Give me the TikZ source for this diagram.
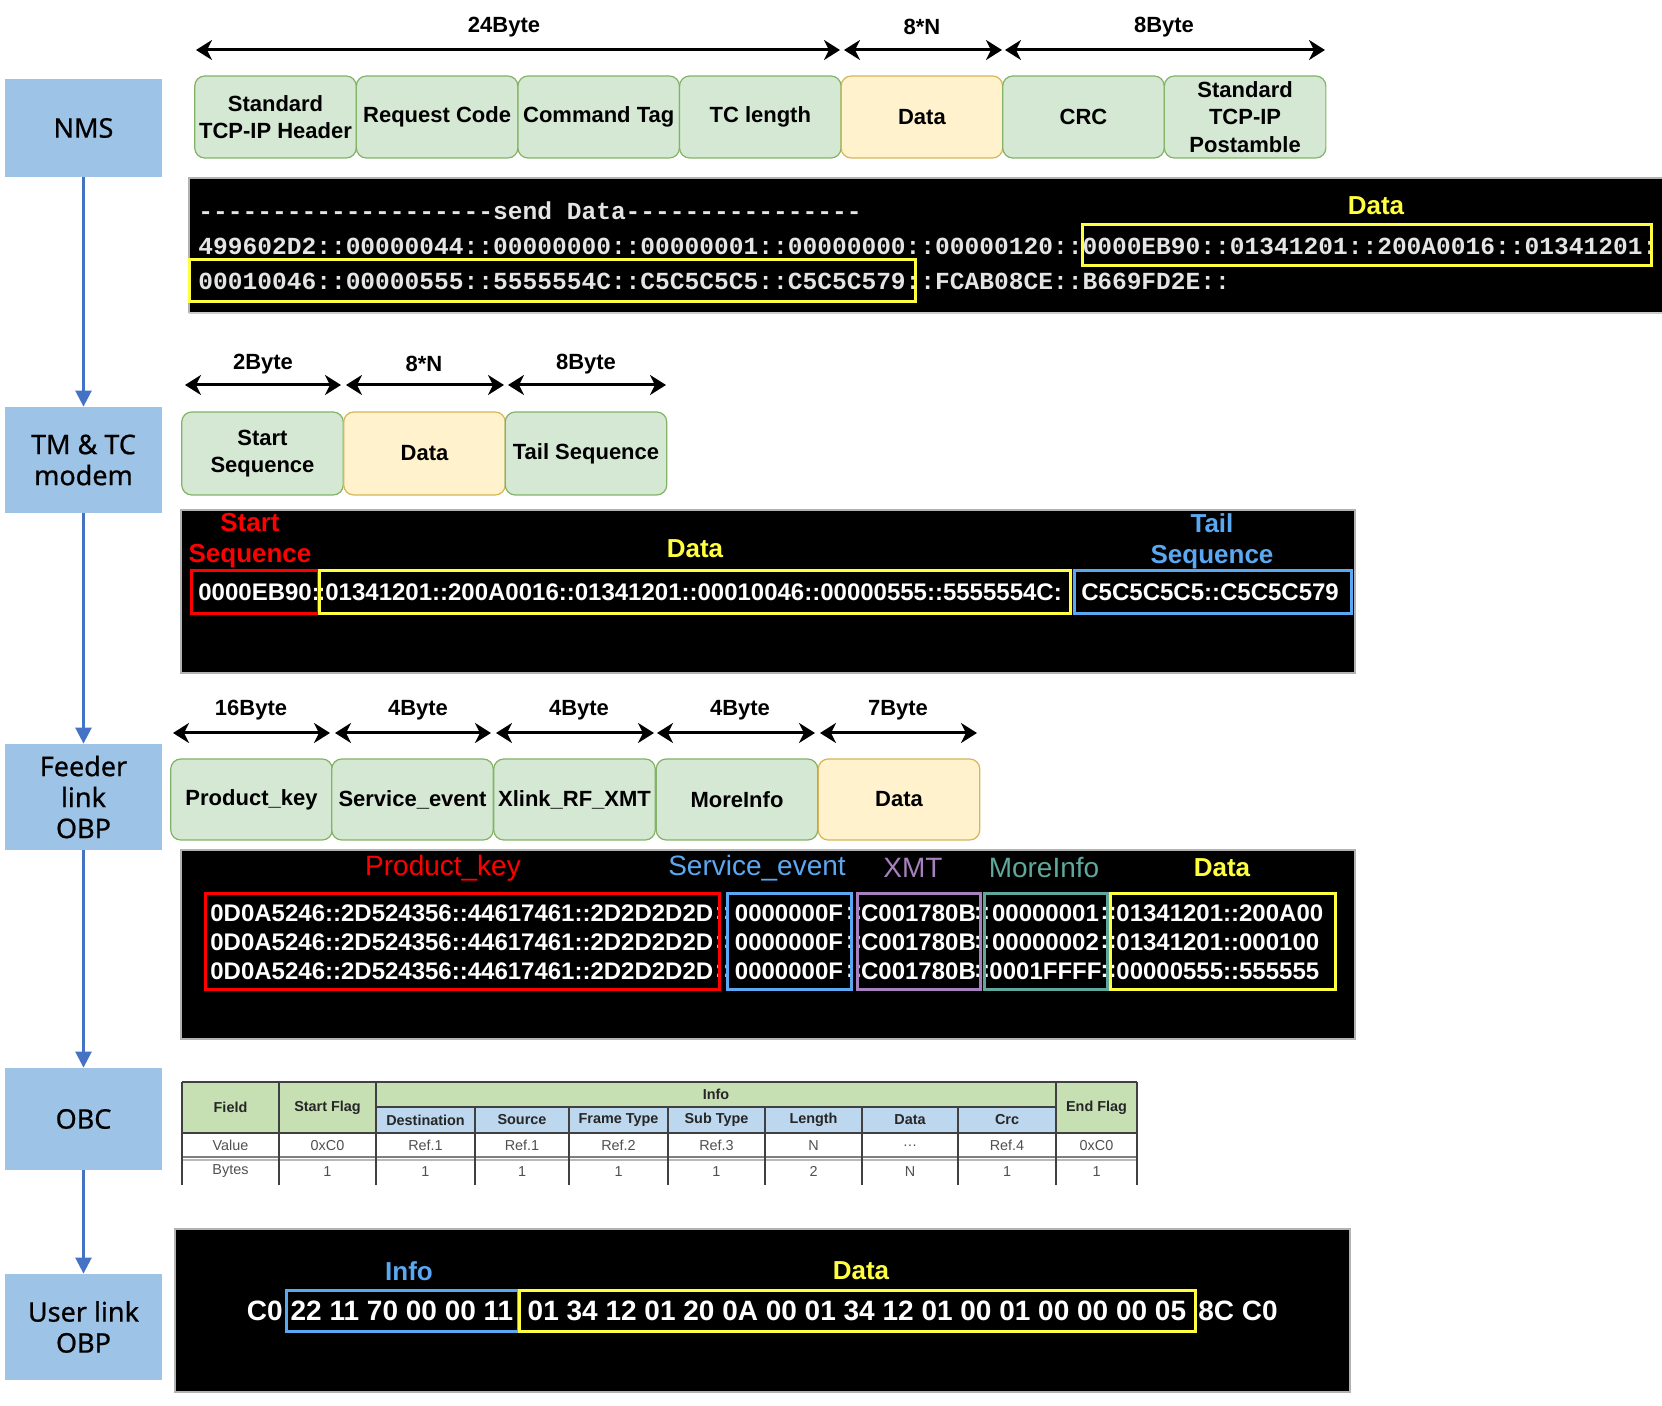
\documentclass[tikz,border=0pt]{standalone}
\usepackage{fontspec}
\setmainfont{Liberation Sans}
\newfontfamily\monof{Liberation Mono}[Ligatures=TeXOff]
\newfontfamily\notof{Noto Sans}[FakeBold=0.7]
\usetikzlibrary{arrows.meta}
\definecolor{leftblue}{HTML}{9DC3E6}
\definecolor{flowblue}{HTML}{4472C4}
\definecolor{gfill}{HTML}{D5E8D4}
\definecolor{gline}{HTML}{82B366}
\definecolor{yfill}{HTML}{FFF2CC}
\definecolor{yline}{HTML}{D6B656}
\definecolor{hlyellow}{HTML}{FFFF40}
\definecolor{hlred}{HTML}{FF0000}
\definecolor{hlblue}{HTML}{5AA8F2}
\definecolor{hlpurple}{HTML}{A681BE}
\definecolor{hlteal}{HTML}{5FA89B}
\definecolor{termtext}{HTML}{E4E4E4}
\definecolor{thgreen}{HTML}{C6E0B4}
\definecolor{thblue}{HTML}{BDD7EE}
\definecolor{tline}{HTML}{404040}
\definecolor{tval}{HTML}{505050}
\tikzset{
  leftbox/.style={fill=leftblue, draw=none, minimum width=78.5pt, inner sep=0, align=center, font=\notof\fontsize{13.5}{15.5}\selectfont},
  flow/.style={draw=flowblue, line width=1.3pt, -{Triangle[length=8pt,width=8pt]}},
  fieldbox/.style={rounded corners=5pt, draw=gline, fill=gfill, line width=0.6pt, minimum width=80.75pt, minimum height=41pt, inner sep=0, align=center, font=\bfseries\fontsize{11}{13.8}\selectfont},
  databox/.style={fieldbox, draw=yline, fill=yfill},
  dimarrow/.style={line width=1.5pt, {Stealth[length=8pt,width=10pt,inset=2.5pt]}-{Stealth[length=8pt,width=10pt,inset=2.5pt]}},
  dimlabel/.style={inner sep=0, font=\bfseries\fontsize{11}{13}\selectfont},
  panel/.style={fill=black, draw=gray!60, line width=0.6pt},
  monotext/.style={anchor=west, inner sep=0, text=termtext, font=\monof\bfseries\fontsize{12.28}{14}\selectfont},
  codetext/.style={inner sep=0, text=white, font=\bfseries\fontsize{12}{14}\selectfont},
  usertext/.style={inner sep=0, text=white, font=\bfseries\fontsize{14}{16}\selectfont},
  plabel/.style={inner sep=0, font=\bfseries\fontsize{13}{15.5}\selectfont, align=center},
  plabelr/.style={inner sep=0, font=\fontsize{14}{16}\selectfont},
  hl/.style={line width=1.5pt},
  thead/.style={inner sep=0, font=\bfseries\fontsize{7.2}{8}\selectfont, text=black!85},
  tcell/.style={inner sep=0, font=\fontsize{7.2}{8}\selectfont, text=tval},
  tgrid/.style={draw=tline, line width=0.8pt}
}
\begin{document}
\begin{tikzpicture}[x=0.5pt,y=-0.5pt]
\useasboundingbox (0,0) rectangle (1662,1406);

% ---------------- left column ----------------
\node[leftbox, minimum height=49pt] (nms) at (83.5,128) {NMS};
\node[leftbox, minimum height=53pt] (tm) at (83.5,460) {TM \& TC\\modem};
\node[leftbox, minimum height=53pt] (feeder) at (83.5,797) {Feeder\\link\\OBP};
\node[leftbox, minimum height=51pt] (obc) at (83.5,1119) {OBC};
\node[leftbox, minimum height=53pt] (user) at (83.5,1327) {User link\\OBP};
\draw[flow] (nms) -- (tm);
\draw[flow] (tm) -- (feeder);
\draw[flow] (feeder) -- (obc);
\draw[flow] (obc) -- (user);

% ---------------- NMS row ----------------
\coordinate (d1a) at (196,50); \coordinate (d1b) at (840,50);
\coordinate (d2a) at (844,50); \coordinate (d2b) at (1002,50);
\coordinate (d3a) at (1005,50); \coordinate (d3b) at (1325,50);
\draw[dimarrow] (d1a) -- (d1b);
\draw[dimarrow] (d2a) -- (d2b);
\draw[dimarrow] (d3a) -- (d3b);
\node[dimlabel] (l1) at (504,27) {24Byte};
\node[dimlabel] (l2) at (922,27) {8*N};
\node[dimlabel] (l3) at (1164,27) {8Byte};

\node[fieldbox] (n1) at (275.5,117) {Standard\\TCP-IP Header};
\node[fieldbox] (n2) at (437.1,117) {Request Code};
\node[fieldbox] (n3) at (598.7,117) {Command Tag};
\node[fieldbox] (n4) at (760.3,117) {TC length};
\node[databox]  (n5) at (921.9,117) {Data};
\node[fieldbox] (n6) at (1083.5,117) {CRC};
\node[fieldbox] (n7) at (1245.1,117) {Standard\\TCP-IP\\Postamble};

\fill[black] (189,178) rectangle (1662,313);
\draw[gray!60, line width=0.6pt] (189,313) -- (189,178) -- (1662,178);
\draw[gray!40, line width=0.6pt] (189,313) -- (1662,313);
\node[monotext] (m0) at (198,211) {--------------------send Data----------------};
\node[monotext] (m1) at (198,246) {499602D2::00000044::00000000::00000001::00000000::00000120::0000EB90::01341201::200A0016::01341201:};
\node[monotext] (m2) at (198,281) {00010046::00000555::5555554C::C5C5C5C5::C5C5C579::FCAB08CE::B669FD2E::};
\draw[hl, hlyellow] (1082,225) rectangle (1651,266);
\draw[hl, hlyellow] (189,260) rectangle (915,302);
\node[plabel, text=hlyellow] (md) at (1376,206) {Data};

% ---------------- TM & TC modem row ----------------
\coordinate (e1a) at (185,385); \coordinate (e1b) at (341,385);
\coordinate (e2a) at (346,385); \coordinate (e2b) at (504,385);
\coordinate (e3a) at (508,385); \coordinate (e3b) at (666,385);
\draw[dimarrow] (e1a) -- (e1b);
\draw[dimarrow] (e2a) -- (e2b);
\draw[dimarrow] (e3a) -- (e3b);
\node[dimlabel] (k1) at (263,364) {2Byte};
\node[dimlabel] (k2) at (424,364) {8*N};
\node[dimlabel] (k3) at (586,364) {8Byte};

\node[fieldbox, minimum height=41.5pt] (t1) at (262.5,453.5) {Start\\Sequence};
\node[databox, minimum height=41.5pt]  (t2) at (424.5,453.5) {Data};
\node[fieldbox, minimum height=41.5pt] (t3) at (586,453.5) {Tail Sequence};

\draw[panel] (181,510) rectangle (1355,673);
\node[plabel, text=hlred] (ts) at (250,541) {Start\\Sequence};
\node[plabel, text=hlyellow] (td) at (695,549) {Data};
\node[plabel, text=hlblue] (tt) at (1212,541) {Tail\\Sequence};
\node[codetext, anchor=west] (c1) at (198,592) {0000EB90:};
\node[codetext, anchor=west] (c2) at (317,592) {:01341201::200A0016::01341201::00010046::00000555::5555554C:};
\node[codetext, anchor=west] (c3) at (1081,592) {C5C5C5C5::C5C5C579};
\draw[hl, hlred] (191,571) rectangle (318,614);
\draw[hl, hlyellow] (319,571) rectangle (1070,614);
\draw[hl, hlblue] (1074,571) rectangle (1351,614);

% ---------------- Feeder link OBP row ----------------
\coordinate (f1a) at (173,733); \coordinate (f1b) at (330,733);
\coordinate (f2a) at (335,733); \coordinate (f2b) at (491,733);
\coordinate (f3a) at (496,733); \coordinate (f3b) at (654,733);
\coordinate (f4a) at (657,733); \coordinate (f4b) at (815,733);
\coordinate (f5a) at (820,733); \coordinate (f5b) at (977,733);
\foreach \i in {1,2,3,4,5} \draw[dimarrow] (f\i a) -- (f\i b);
\node[dimlabel] (g1) at (251,710) {16Byte};
\node[dimlabel] (g2) at (418,710) {4Byte};
\node[dimlabel] (g3) at (579,710) {4Byte};
\node[dimlabel] (g4) at (740,710) {4Byte};
\node[dimlabel] (g5) at (898,710) {7Byte};

\node[fieldbox, minimum height=40.5pt] (b1) at (251.5,799.5) {Product\_key};
\node[fieldbox, minimum height=40.5pt] (b2) at (412.5,799.5) {Service\_event};
\node[fieldbox, minimum height=40.5pt] (b3) at (574.5,799.5) {Xlink\_RF\_XMT};
\node[fieldbox, minimum height=40.5pt] (b4) at (737,799.5) {MoreInfo};
\node[databox, minimum height=40.5pt]  (b5) at (899,799.5) {Data};

\draw[panel] (181,850) rectangle (1355,1039);
\node[plabelr, text=hlred] (p1) at (443,868) {Product\_key};
\node[plabelr, text=hlblue] (p2) at (757,868) {Service\_event};
\node[plabelr, text=hlpurple] (p3) at (913,868) {XMT};
\node[plabelr, text=hlteal] (p4) at (1044,868) {MoreInfo};
\node[plabel, text=hlyellow] (p5) at (1222,868) {Data};

\foreach \y/\t/\u [count=\r] in {913/00000001/01341201::200A00, 942/00000002/01341201::000100, 971/0001FFFF/00000555::555555}{
  \node[codetext, anchor=west] (r\r a) at (210,\y) {0D0A5246::2D524356::44617461::2D2D2D2D};
  \node[codetext] (r\r s1) at (723,\y) {::};
  \node[codetext] (r\r b) at (789,\y) {0000000F};
  \node[codetext] (r\r s2) at (854,\y) {::};
  \node[codetext] (r\r c) at (918.5,\y) {C001780B};
  \node[codetext] (r\r s3) at (982,\y) {::};
  \node[codetext] (r\r d) at (1045.5,\y) {\t};
  \node[codetext] (r\r s4) at (1108.5,\y) {::};
  \node[codetext, anchor=west] (r\r e) at (1116,\y) {\u};
}
\draw[hl, hlred] (205,894) rectangle (719,990);
\draw[hl, hlblue] (727,894) rectangle (851,990);
\draw[hl, hlpurple] (857,894) rectangle (980,990);
\draw[hl, hlteal] (984,894) rectangle (1107,990);
\draw[hl, hlyellow] (1110,894) rectangle (1335,990);

% ---------------- OBC table ----------------
\fill[thgreen] (182,1082) rectangle (1137,1133);
\fill[thblue] (376,1107) rectangle (1056,1133);
\draw[tline, line width=1.2pt] (182,1082) -- (1137,1082);
\draw[tgrid] (376,1107) -- (1056,1107);
\draw[tgrid] (182,1133) -- (1137,1133);
\draw[gray, line width=0.6pt] (182,1157) -- (1137,1157);
\draw[gray!55, line width=0.6pt] (182,1160) -- (1137,1160);
\foreach \x in {182,279,376,1056,1137} \draw[tgrid] (\x,1082) -- (\x,1185);
\foreach \x in {475,569,668,765,862,958} \draw[tgrid] (\x,1107) -- (\x,1185);
\node[thead] (h1) at (230.5,1107.5) {Field};
\node[thead] (h2) at (327.5,1107.5) {Start Flag};
\node[thead] (h3) at (716,1094.5) {Info};
\node[thead] (h4) at (1096.5,1107.5) {End Flag};
\foreach \x/\t [count=\i] in {425.5/Destination, 522/Source, 618.5/Frame Type, 716.5/Sub Type, 813.5/Length, 910/Data, 1007/Crc}
  \node[thead] (s\i) at (\x,1120) {\t};
\foreach \x/\t [count=\i] in {230.5/Value, 327.5/0xC0, 425.5/Ref.1, 522/Ref.1, 618.5/Ref.2, 716.5/Ref.3, 813.5/N, 1007/Ref.4, 1096.5/0xC0}
  \node[tcell] (v\i) at (\x,1145.5) {\t};
\node[tcell] (vdots) at (910,1145.5) {\dots};
\foreach \x/\t [count=\i] in {230.5/Bytes, 327.5/1, 425.5/1, 522/1, 618.5/1, 716.5/1, 813.5/2, 910/N, 1007/1, 1096.5/1}
  \node[tcell] (y\i) at (\x,1171.5) {\t};

% ---------------- User link OBP row ----------------
\draw[panel] (175,1229) rectangle (1350,1392);
\node[plabel, text=hlblue] (ui) at (409,1271) {Info};
\node[plabel, text=hlyellow] (ud) at (861,1271) {Data};
\node[usertext, anchor=east] (u1) at (283,1311) {C0};
\node[usertext] (u2) at (402,1311) {22 11 70 00 00 11};
\node[usertext] (u3) at (857,1311) {01 34 12 01 20 0A 00 01 34 12 01 00 01 00 00 00 05};
\node[usertext, anchor=west] (u4) at (1198,1311) {8C C0};
\draw[hl, hlblue] (286,1290) rectangle (518,1331);
\draw[hl, hlyellow] (519,1290) rectangle (1195,1331);
\end{tikzpicture}
\end{document}
